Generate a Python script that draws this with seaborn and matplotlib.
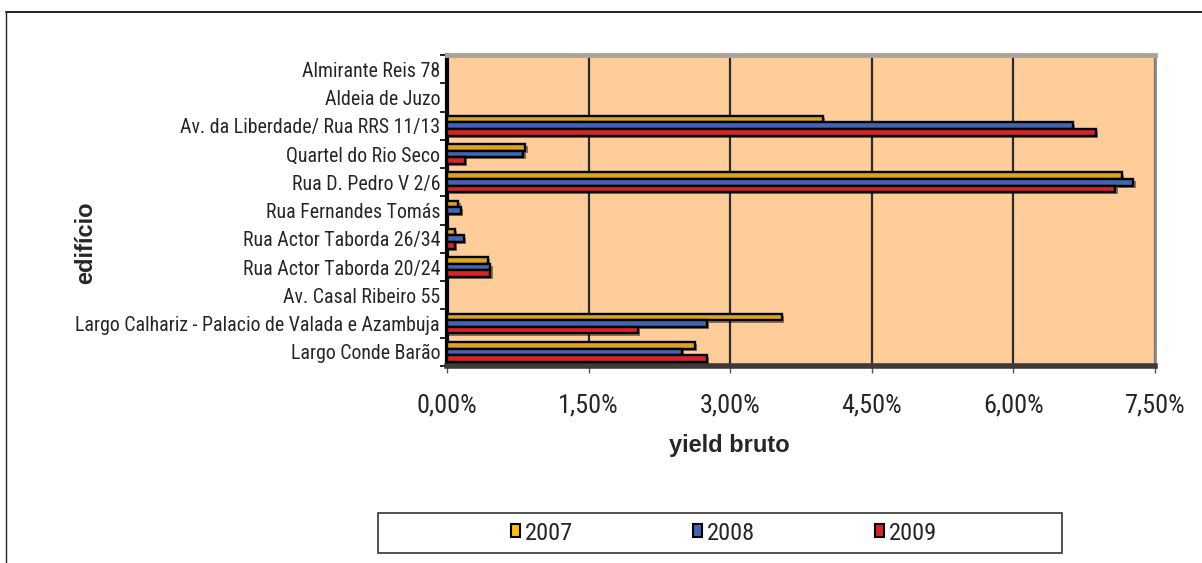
import numpy as np
import pandas as pd
import matplotlib
matplotlib.use("Agg")
import matplotlib.pyplot as plt
import matplotlib.patheffects as pe
from matplotlib import font_manager as fm
from matplotlib.font_manager import FontProperties
from matplotlib.textpath import TextPath
from matplotlib.patches import Rectangle
from matplotlib.lines import Line2D
from matplotlib.ticker import FixedLocator
import seaborn as sns

# Buildings, listed from top to bottom
edificios = [
    "Almirante Reis 78",
    "Aldeia de Juzo",
    "Av. da Liberdade/ Rua RRS 11/13",
    "Quartel do Rio Seco",
    "Rua D. Pedro V 2/6",
    "Rua Fernandes Tomás",
    "Rua Actor Taborda 26/34",
    "Rua Actor Taborda 20/24",
    "Av. Casal Ribeiro 55",
    "Largo Calhariz - Palacio de Valada e Azambuja",
    "Largo Conde Barão",
]
anos = ["2007", "2008", "2009"]

# Gross yield (%) per year
yield_2007 = [0.00, 0.00, 3.98, 0.83, 7.15, 0.12, 0.08, 0.43, 0.00, 3.55, 2.63]
yield_2008 = [0.00, 0.00, 6.63, 0.81, 7.27, 0.15, 0.18, 0.46, 0.00, 2.75, 2.49]
yield_2009 = [0.00, 0.00, 6.87, 0.19, 7.08, 0.00, 0.08, 0.46, 0.00, 2.02, 2.75]

x_ticks = [0.0, 1.5, 3.0, 4.5, 6.0, 7.5]
x_tick_labels = ["0,00%", "1,50%", "3,00%", "4,50%", "6,00%", "7,50%"]

df = pd.DataFrame({
    "edifício": edificios * 3,
    "ano": [a for a in anos for _ in edificios],
    "yield": yield_2007 + yield_2008 + yield_2009,
})

sns.set_theme(style="white")

# Prefer a narrow sans face for the labels when one is installed
available = {f.name for f in fm.fontManager.ttflist}
narrow_face = "Liberation Sans"
for cand in ["Liberation Sans Narrow", "Arial Narrow", "Roboto Condensed", "Open Sans Condensed"]:
    if cand in available:
        narrow_face = cand
        break
label_family = [narrow_face, "Liberation Sans", "DejaVu Sans"]
bold_family = ["Liberation Sans", "DejaVu Sans"]
plt.rcParams["font.family"] = label_family

DPI = 100


def size_for_width(text, width_px, family, weight="normal"):
    """Font size (pt) at which `text` spans `width_px` pixels of ink."""
    prop = FontProperties(family=family, weight=weight)
    w = TextPath((0, 0), text, size=100, prop=prop).get_extents().width
    return width_px * 72.0 / DPI * 100.0 / w


cat_size = size_for_width("Largo Calhariz - Palacio de Valada e Azambuja", 362, label_family)
tick_size = size_for_width("0,00%", 58, label_family)
leg_size = size_for_width("2007", 46, label_family)

W, H = 1202, 563
fig = plt.figure(figsize=(W / DPI, H / DPI), dpi=DPI)
fig.patch.set_facecolor("white")

# Plot area in pixel coordinates
left, right, top, bottom = 447, 1155, 55, 366
ax = fig.add_axes([left / W, 1 - bottom / H, (right - left) / W, (bottom - top) / H])
ax.set_facecolor("#FECD9A")

palette = ["#DDA51D", "#4264B4", "#D8232A"]
sns.barplot(
    data=df, y="edifício", x="yield", hue="ano", order=edificios, hue_order=anos,
    orient="h", palette=palette, width=0.7, edgecolor="black", linewidth=1.7,
    saturation=1, errorbar=None, ax=ax, zorder=3,
)

shadow = [pe.SimplePatchShadow(offset=(1.6, -1.6), shadow_rgbFace="black", alpha=0.45), pe.Normal()]
for patch in ax.patches:
    patch.set_path_effects(shadow)

ax.get_legend().remove()

ax.set_xlim(0, 7.5)
ax.set_xticks(x_ticks)
ax.set_xticklabels(x_tick_labels, fontsize=tick_size)
ax.tick_params(axis="x", which="major", direction="out", length=5, width=1, color="#555555", pad=15, bottom=True)

# Category separators as outward ticks on the value axis
ax.yaxis.set_minor_locator(FixedLocator(np.arange(-0.5, len(edificios), 1.0)))
ax.tick_params(axis="y", which="major", left=False, length=0, labelsize=cat_size, pad=5)
ax.tick_params(axis="y", which="minor", left=True, direction="out", length=5, width=1.2, color="black")

ax.xaxis.grid(True, color="#2b2b2b", linewidth=1.6, zorder=1)
ax.yaxis.grid(False)
ax.set_axisbelow(True)

for name, spine in ax.spines.items():
    spine.set_visible(True)
ax.spines["left"].set_color("black")
ax.spines["left"].set_linewidth(3)
ax.spines["top"].set_color("#A9A39B")
ax.spines["top"].set_linewidth(3.5)
ax.spines["right"].set_color("#8C8782")
ax.spines["right"].set_linewidth(2)
ax.spines["bottom"].set_color("#3E3934")
ax.spines["bottom"].set_linewidth(4)

ax.set_xlabel("yield bruto", fontsize=17, fontweight="bold", family=bold_family)
ax.xaxis.set_label_coords((729 - left) / (right - left), -(434 - bottom) / (bottom - top))
ax.set_ylabel("edifício", fontsize=17, fontweight="bold", family=bold_family)
ax.yaxis.set_label_coords((97 - left) / (right - left), (bottom - 243) / (bottom - top))

# Legend with its own frame
leg_handles = [Rectangle((0, 0), 1, 1, facecolor=c, edgecolor="black", linewidth=1.5)
               for c in ["#FFC000", "#4264B4", "#D8232A"]]
leg = fig.legend(
    leg_handles, anos, loc="center", bbox_to_anchor=(724 / W, 1 - 533 / H),
    ncol=3, frameon=False, fontsize=leg_size, handlelength=0.38, handleheight=0.42,
    handletextpad=0.2, columnspacing=4.9,
)
fig.patches.append(Rectangle((378 / W, 1 - 553 / H), 684 / W, 40 / H, transform=fig.transFigure,
                             fill=False, edgecolor="#333333", linewidth=1.2))

# Outer chart frame
fig.lines.append(Line2D([6 / W, 1.0], [1 - 12 / H, 1 - 12 / H], transform=fig.transFigure,
                        color="#222222", linewidth=1.4))
fig.lines.append(Line2D([6 / W, 6 / W], [1 - 12 / H, 0.0], transform=fig.transFigure,
                        color="#222222", linewidth=1.0))

fig.savefig("out.png", dpi=DPI)
